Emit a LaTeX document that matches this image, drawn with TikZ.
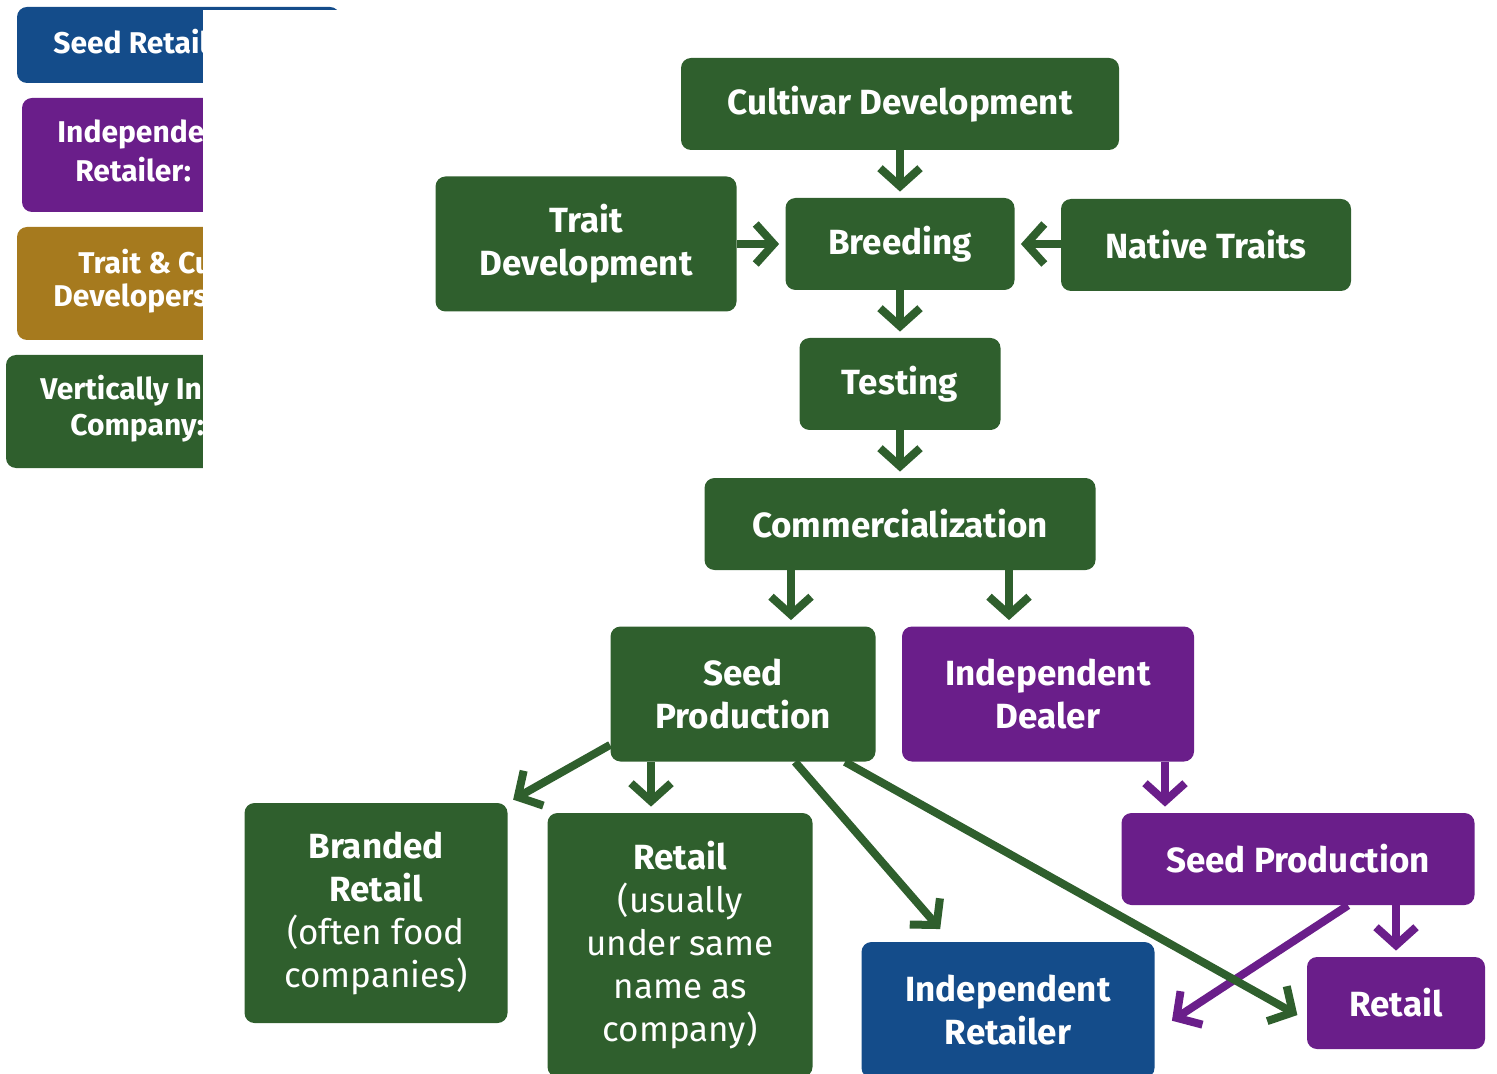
\documentclass[tikz,border=0pt]{standalone}
\usepackage{fontspec}
\setmainfont{Fira Sans}
\usetikzlibrary{arrows.meta,calc}

\definecolor{vgreen}{RGB}{47,95,45}
\definecolor{vpurple}{RGB}{106,30,138}
\definecolor{vblue}{RGB}{20,76,138}
\definecolor{vgold}{RGB}{166,122,30}

\tikzset{
  box/.style={rounded corners=5pt, text=white, align=center, inner sep=0pt,
    font=\fontsize{17.5}{21.5}\selectfont\bfseries},
  gbox/.style={box, fill=vgreen},
  pbox/.style={box, fill=vpurple},
  blbox/.style={box, fill=vblue},
  arr/.style={line width=4pt, draw=vgreen, shorten >=3pt,
    -{Straight Barb[length=9pt,width=20pt]}},
  parr/.style={arr, draw=vpurple},
  legtext/.style={anchor=west, inner sep=0pt, text=white,
    font=\fontsize{15}{18}\selectfont\bfseries}
}

\begin{document}
\begin{tikzpicture}[x=0.5pt,y=-0.5pt]
    \useasboundingbox (0,0) rectangle (1497,1074);
    \clip (0,0) rectangle (1497,1074);

    % legend (cut off on the right)
    \fill[vblue, rounded corners=5pt] (17,7) rectangle (340,83);
    \fill[vpurple, rounded corners=5pt] (22,98) rectangle (340,212);
    \fill[vgold, rounded corners=5pt] (17,227) rectangle (340,340);
    \fill[vgreen, rounded corners=5pt] (6,355) rectangle (340,468);
    \node[legtext] (l1) at (53,42) {Seed Retail};
    \node[legtext] (l2) at (57,134) {Independe};
    \node[legtext] (l3) at (75,170) {Retailer:};
    \node[legtext] (l4) at (78,262) {Trait \& Cu};
    \node[legtext] (l5) at (53,298) {Developers};
    \node[legtext] (l6) at (40,391) {Vertically In};
    \node[legtext] (l7) at (70,428) {Company:};
    \fill[white] (203,10) rectangle (350,476);

    % flow
    \node[gbox, minimum width=219pt, minimum height=46pt] (cult) at (900,104) {Cultivar Development};
    \node[gbox, minimum width=150.5pt, minimum height=67.5pt] (trait) at (586,244) {Trait\\Development};
    \node[gbox, minimum width=114.5pt, minimum height=46pt] (breed) at (900,244) {Breeding};
    \node[gbox, minimum width=145pt, minimum height=46pt] (native) at (1206,245) {Native Traits};
    \node[gbox, minimum width=100.5pt, minimum height=46pt] (test) at (900,384) {Testing};
    \node[gbox, minimum width=195.5pt, minimum height=46pt] (comm) at (900,524) {Commercialization};
    \node[gbox, minimum width=132.5pt, minimum height=67.5pt] (sp) at (743,694) {Seed\\Production};
    \node[pbox, minimum width=146pt, minimum height=67.5pt] (dealer) at (1048,694) {Independent\\Dealer};
    \node[gbox, minimum width=131.5pt, minimum height=110pt] (brand) at (376,913) {Branded\\Retail\\\mdseries(often food\\\mdseries companies)};
    \node[gbox, minimum width=132.5pt, minimum height=132pt] (rsame) at (680,945) {Retail\\\mdseries(usually\\\mdseries under same\\\mdseries name as\\\mdseries company)};
    \node[blbox, minimum width=146.5pt, minimum height=68pt] (indret) at (1008,1010) {Independent\\Retailer};
    \node[pbox, minimum width=176.5pt, minimum height=46pt] (sp2) at (1298,859) {Seed Production};
    \node[pbox, minimum width=89pt, minimum height=46pt] (ret2) at (1396,1003) {Retail};

    \draw[arr] (cult) -- (breed);
    \draw[arr] (trait) -- (breed);
    \draw[arr] (native.west |- breed.east) -- (breed.east);
    \draw[arr] (breed) -- (test);
    \draw[arr] (test) -- (comm);
    \draw[arr] ($(comm.south)+(-109,0)$) -- ($(sp.north)+(48,0)$);
    \draw[arr] ($(comm.south)+(109,0)$) -- ($(dealer.north)+(-39,0)$);
    \draw[parr] ($(dealer.south)+(117,0)$) -- ($(sp2.north)+(-133,0)$);
    \draw[parr] ($(sp2.south)+(98,0)$) -- (ret2.north);
    \draw[parr] ($(sp2.south)+(50,0)$) -- ($(indret.east)+(12,14)$);
    \draw[arr] ($(sp.south west)+(0,-17)$) -- (brand.north east);
    \draw[arr] ($(sp.south)+(-92,0)$) -- ($(rsame.north)+(-29,0)$);
    \draw[arr] ($(sp.south)+(52,0)$) -- ($(indret.north west)+(83,-8)$);
    \draw[arr] ($(sp.south)+(102,0)$) -- ($(ret2.west)+(-4,15)$);
\end{tikzpicture}
\end{document}
